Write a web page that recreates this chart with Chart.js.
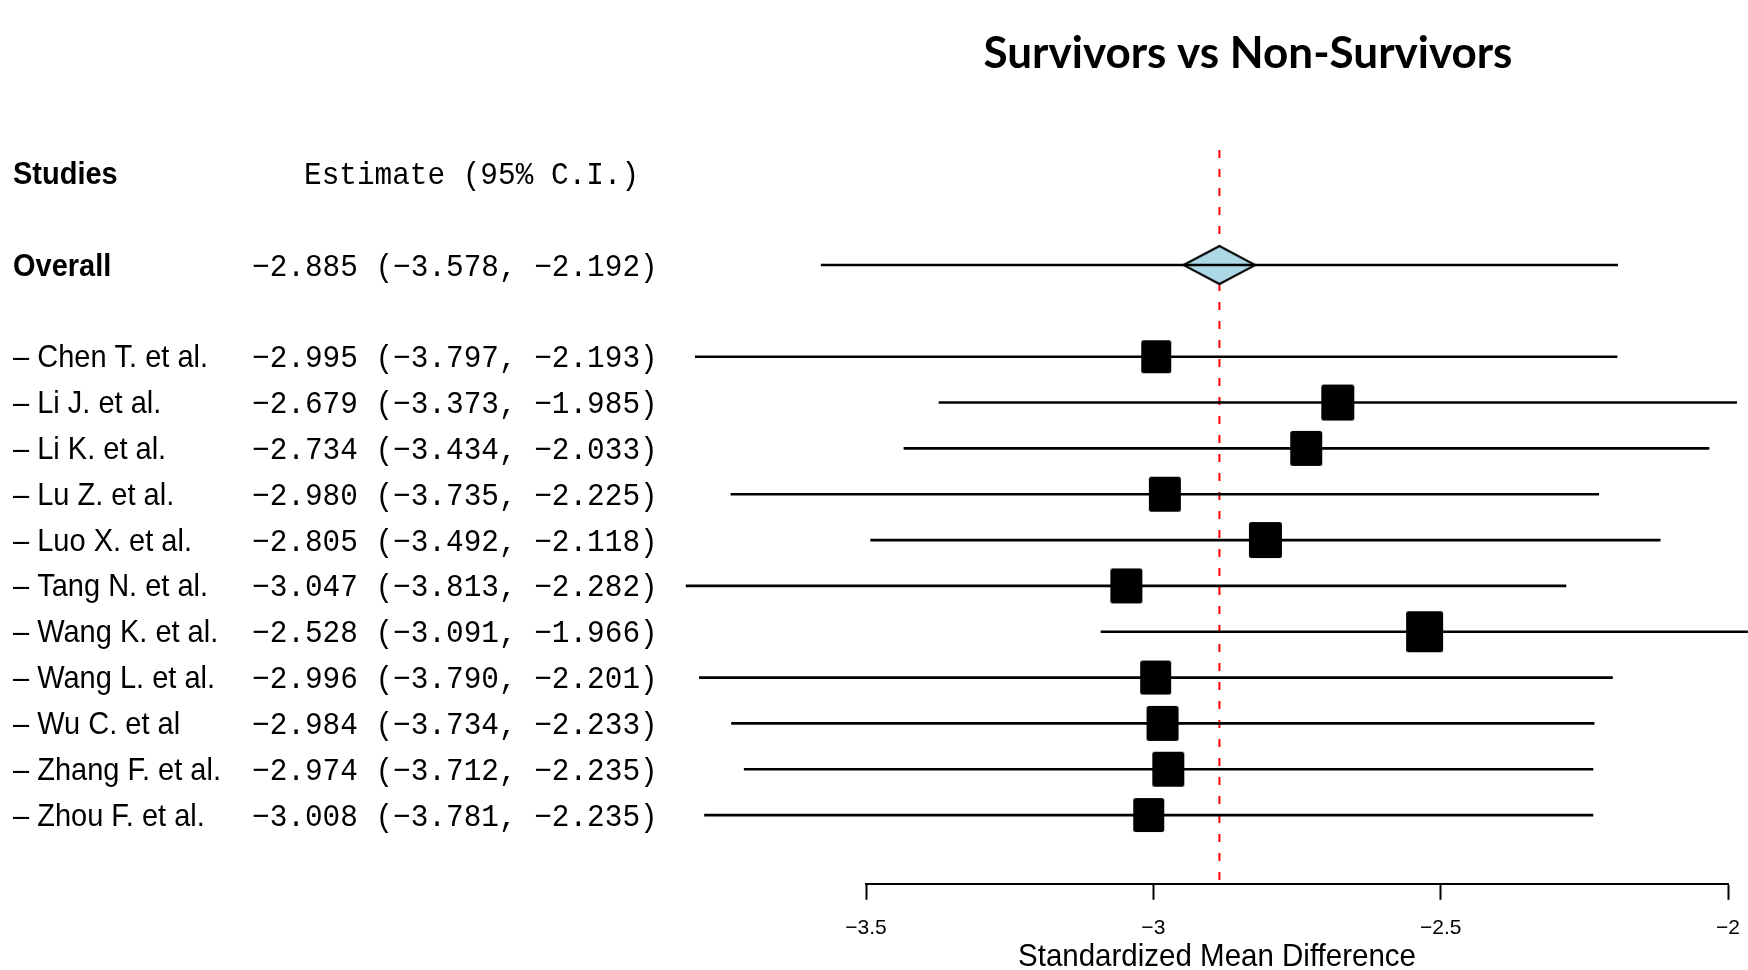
<!DOCTYPE html>
<html>
<head>
<meta charset="utf-8">
<script src="https://cdn.jsdelivr.net/npm/chart.js@4/dist/chart.umd.min.js"></script>
<style>
  html, body { margin: 0; padding: 0; overflow: hidden; background: #ffffff; }
  canvas { display: block; }
</style>
</head>
<body>
<canvas id="forest" width="1748" height="970"></canvas>
<script>
// Study-level results (standardized mean difference, 95% CI)
const studies   = ['Chen T. et al.', 'Li J. et al.', 'Li K. et al.', 'Lu Z. et al.', 'Luo X. et al.',
                   'Tang N. et al.', 'Wang K. et al.', 'Wang L. et al.', 'Wu C. et al', 'Zhang F. et al.', 'Zhou F. et al.'];
const estimates = [-2.995, -2.679, -2.734, -2.980, -2.805, -3.047, -2.528, -2.996, -2.984, -2.974, -3.008];
const lowerCI   = [-3.797, -3.373, -3.434, -3.735, -3.492, -3.813, -3.091, -3.790, -3.734, -3.712, -3.781];
const upperCI   = [-2.193, -1.985, -2.033, -2.225, -2.118, -2.282, -1.966, -2.201, -2.233, -2.235, -2.235];
// relative study weights (%), shown as the box areas
const weights   = [8.1, 9.4, 9.2, 8.8, 9.6, 8.7, 11.7, 8.3, 8.8, 9.1, 8.3];

// Pooled estimate
const overallEstimate = -2.885;
const overallLower    = -3.578;
const overallUpper    = -2.192;

// Axis ticks
const xTicks = [-3.5, -3, -2.5, -2];

// Row layout (0 = column headers, 2 = pooled result, 4.. = studies)
const HEADER_ROW = 0;
const OVERALL_ROW = 2;
const FIRST_STUDY_ROW = 4;
const studyRows = studies.map((_, i) => FIRST_STUDY_ROW + i);

const MINUS = '\u2212';
const fmt3 = v => (v < 0 ? MINUS : '') + Math.abs(v).toFixed(3);
const ciText = (e, l, h) => `${fmt3(e)} (${fmt3(l)}, ${fmt3(h)})`;

// Box marker: area proportional to the study weight
const BOX_PX_PER_SQRT_WEIGHT = 10.7;
function boxImage(weight) {
  const w = Math.round(Math.sqrt(weight) * BOX_PX_PER_SQRT_WEIGHT);
  const h = Math.round(w * 1.1);
  const c = document.createElement('canvas');
  c.width = w + 2; c.height = h + 2;
  const g = c.getContext('2d');
  g.fillStyle = '#000000';
  g.beginPath();
  g.roundRect(1, 1, w, h, 2.5);
  g.fill();
  return c;
}

// Diamond marker for the pooled estimate
function diamondImage(w, h) {
  const c = document.createElement('canvas');
  c.width = w + 4; c.height = h + 4;
  const g = c.getContext('2d');
  g.lineWidth = 2;
  g.strokeStyle = '#000000';
  g.fillStyle = '#ADD8E6';
  g.beginPath();
  g.moveTo(2, 2 + h / 2);
  g.lineTo(2 + w / 2, 2);
  g.lineTo(2 + w, 2 + h / 2);
  g.lineTo(2 + w / 2, 2 + h);
  g.closePath();
  g.fill();
  g.stroke();
  return c;
}

const boxImages = weights.map(boxImage);
const diamond = diamondImage(72, 38);

const LABEL_FONT = '29px "Liberation Sans", Arial, sans-serif';
const LABEL_BOLD = 'bold 29px "Liberation Sans", Arial, sans-serif';
const MONO_FONT  = '29.4px "Liberation Mono", "DejaVu Sans Mono", monospace';
const TEXT_STRETCH = 1.06;

// text drawn slightly stretched vertically about its baseline
function tallText(ctx, text, x, y) {
  ctx.save();
  ctx.translate(x, y);
  ctx.scale(1, TEXT_STRETCH);
  ctx.fillText(text, 0, 0);
  ctx.restore();
}

const forestText = {
  id: 'forestText',
  beforeDatasetsDraw(chart) {
    // vertical reference line at the pooled estimate
    const { ctx, chartArea, scales } = chart;
    const x = scales.x.getPixelForValue(overallEstimate);
    ctx.save();
    ctx.strokeStyle = '#FF0000';
    ctx.lineWidth = 2;
    ctx.setLineDash([8, 11]);
    ctx.beginPath();
    ctx.moveTo(x, chartArea.top);
    ctx.lineTo(x, chartArea.bottom);
    ctx.stroke();
    ctx.restore();
  },
  afterDraw(chart) {
    const { ctx, scales } = chart;
    const y = row => scales.y.getPixelForValue(row) + 10.5;
    ctx.save();
    ctx.fillStyle = '#000000';
    ctx.textBaseline = 'alphabetic';

    ctx.textAlign = 'center';
    ctx.font = 'bold 44px Lato, "Open Sans", sans-serif';
    ctx.fillText('Survivors vs Non-Survivors', 1248, 68);

    // x-axis title
    ctx.font = '29.5px "Liberation Sans", Arial, sans-serif';
    tallText(ctx, 'Standardized Mean Difference', 1217, 966);

    ctx.textAlign = 'left';
    ctx.font = LABEL_BOLD;
    tallText(ctx, 'Studies', 13, y(HEADER_ROW));
    tallText(ctx, 'Overall', 13, y(OVERALL_ROW));

    ctx.font = MONO_FONT;
    tallText(ctx, 'Estimate (95% C.I.)', 304, y(HEADER_ROW));
    tallText(ctx, ciText(overallEstimate, overallLower, overallUpper), 252, y(OVERALL_ROW));

    studies.forEach((name, i) => {
      ctx.font = LABEL_FONT;
      tallText(ctx, '\u2013 ' + name, 13, y(studyRows[i]));
      ctx.font = MONO_FONT;
      tallText(ctx, ciText(estimates[i], lowerCI[i], upperCI[i]), 252, y(studyRows[i]));
    });
    ctx.restore();
  }
};

Chart.defaults.color = '#000000';
Chart.defaults.font.family = '"Liberation Sans", Arial, sans-serif';

new Chart(document.getElementById('forest'), {
  type: 'scatter',
  data: {
    datasets: [
      {
        // pooled diamond (drawn first so the CI line shows across it)
        type: 'scatter',
        order: 3,
        data: [{ x: overallEstimate, y: OVERALL_ROW }],
        pointStyle: diamond,
        pointRadius: 19,
        clip: false
      },
      {
        // confidence intervals as thin floating bars
        type: 'bar',
        order: 2,
        indexAxis: 'y',
        data: [{ x: [overallLower, overallUpper], y: OVERALL_ROW }]
          .concat(studies.map((_, i) => ({ x: [lowerCI[i], upperCI[i]], y: studyRows[i] }))),
        backgroundColor: '#000000',
        borderWidth: 0,
        barThickness: 2,
        grouped: false,
        clip: false
      },
      {
        // study point estimates
        type: 'scatter',
        order: 1,
        data: estimates.map((e, i) => ({ x: e, y: studyRows[i] })),
        pointStyle: boxImages,
        pointRadius: 18,
        clip: false
      }
    ]
  },
  options: {
    responsive: false,
    animation: false,
    events: [],
    layout: { padding: { left: 866, right: 20, top: 150, bottom: 13 } },
    plugins: { legend: { display: false }, tooltip: { enabled: false }, title: { display: false } },
    scales: {
      x: {
        type: 'linear',
        position: 'bottom',
        offset: false,
        min: xTicks[0],
        max: xTicks[xTicks.length - 1],
        afterBuildTicks: axis => { axis.ticks = xTicks.map(v => ({ value: v })); },
        // the end labels fit inside the layout padding; no extra side room needed
        afterFit: axis => { axis.paddingLeft = 0; axis.paddingRight = 0; },
        ticks: {
          font: { size: 21 },
          color: '#000000',
          padding: 16,
          maxRotation: 0,
          autoSkip: false,
          callback: v => (v < 0 ? MINUS : '') + Math.abs(v)
        },
        grid: { display: true, offset: false, drawOnChartArea: false, drawTicks: true, tickLength: 16, tickWidth: 2, tickColor: '#000000' },
        border: { display: true, color: '#000000', width: 2 },
        title: { display: false }
      },
      y: {
        type: 'linear',
        display: false,
        offset: false,
        reverse: true,
        min: -0.51,
        max: 15.5
      }
    }
  },
  plugins: [forestText]
});
</script>
</body>
</html>
